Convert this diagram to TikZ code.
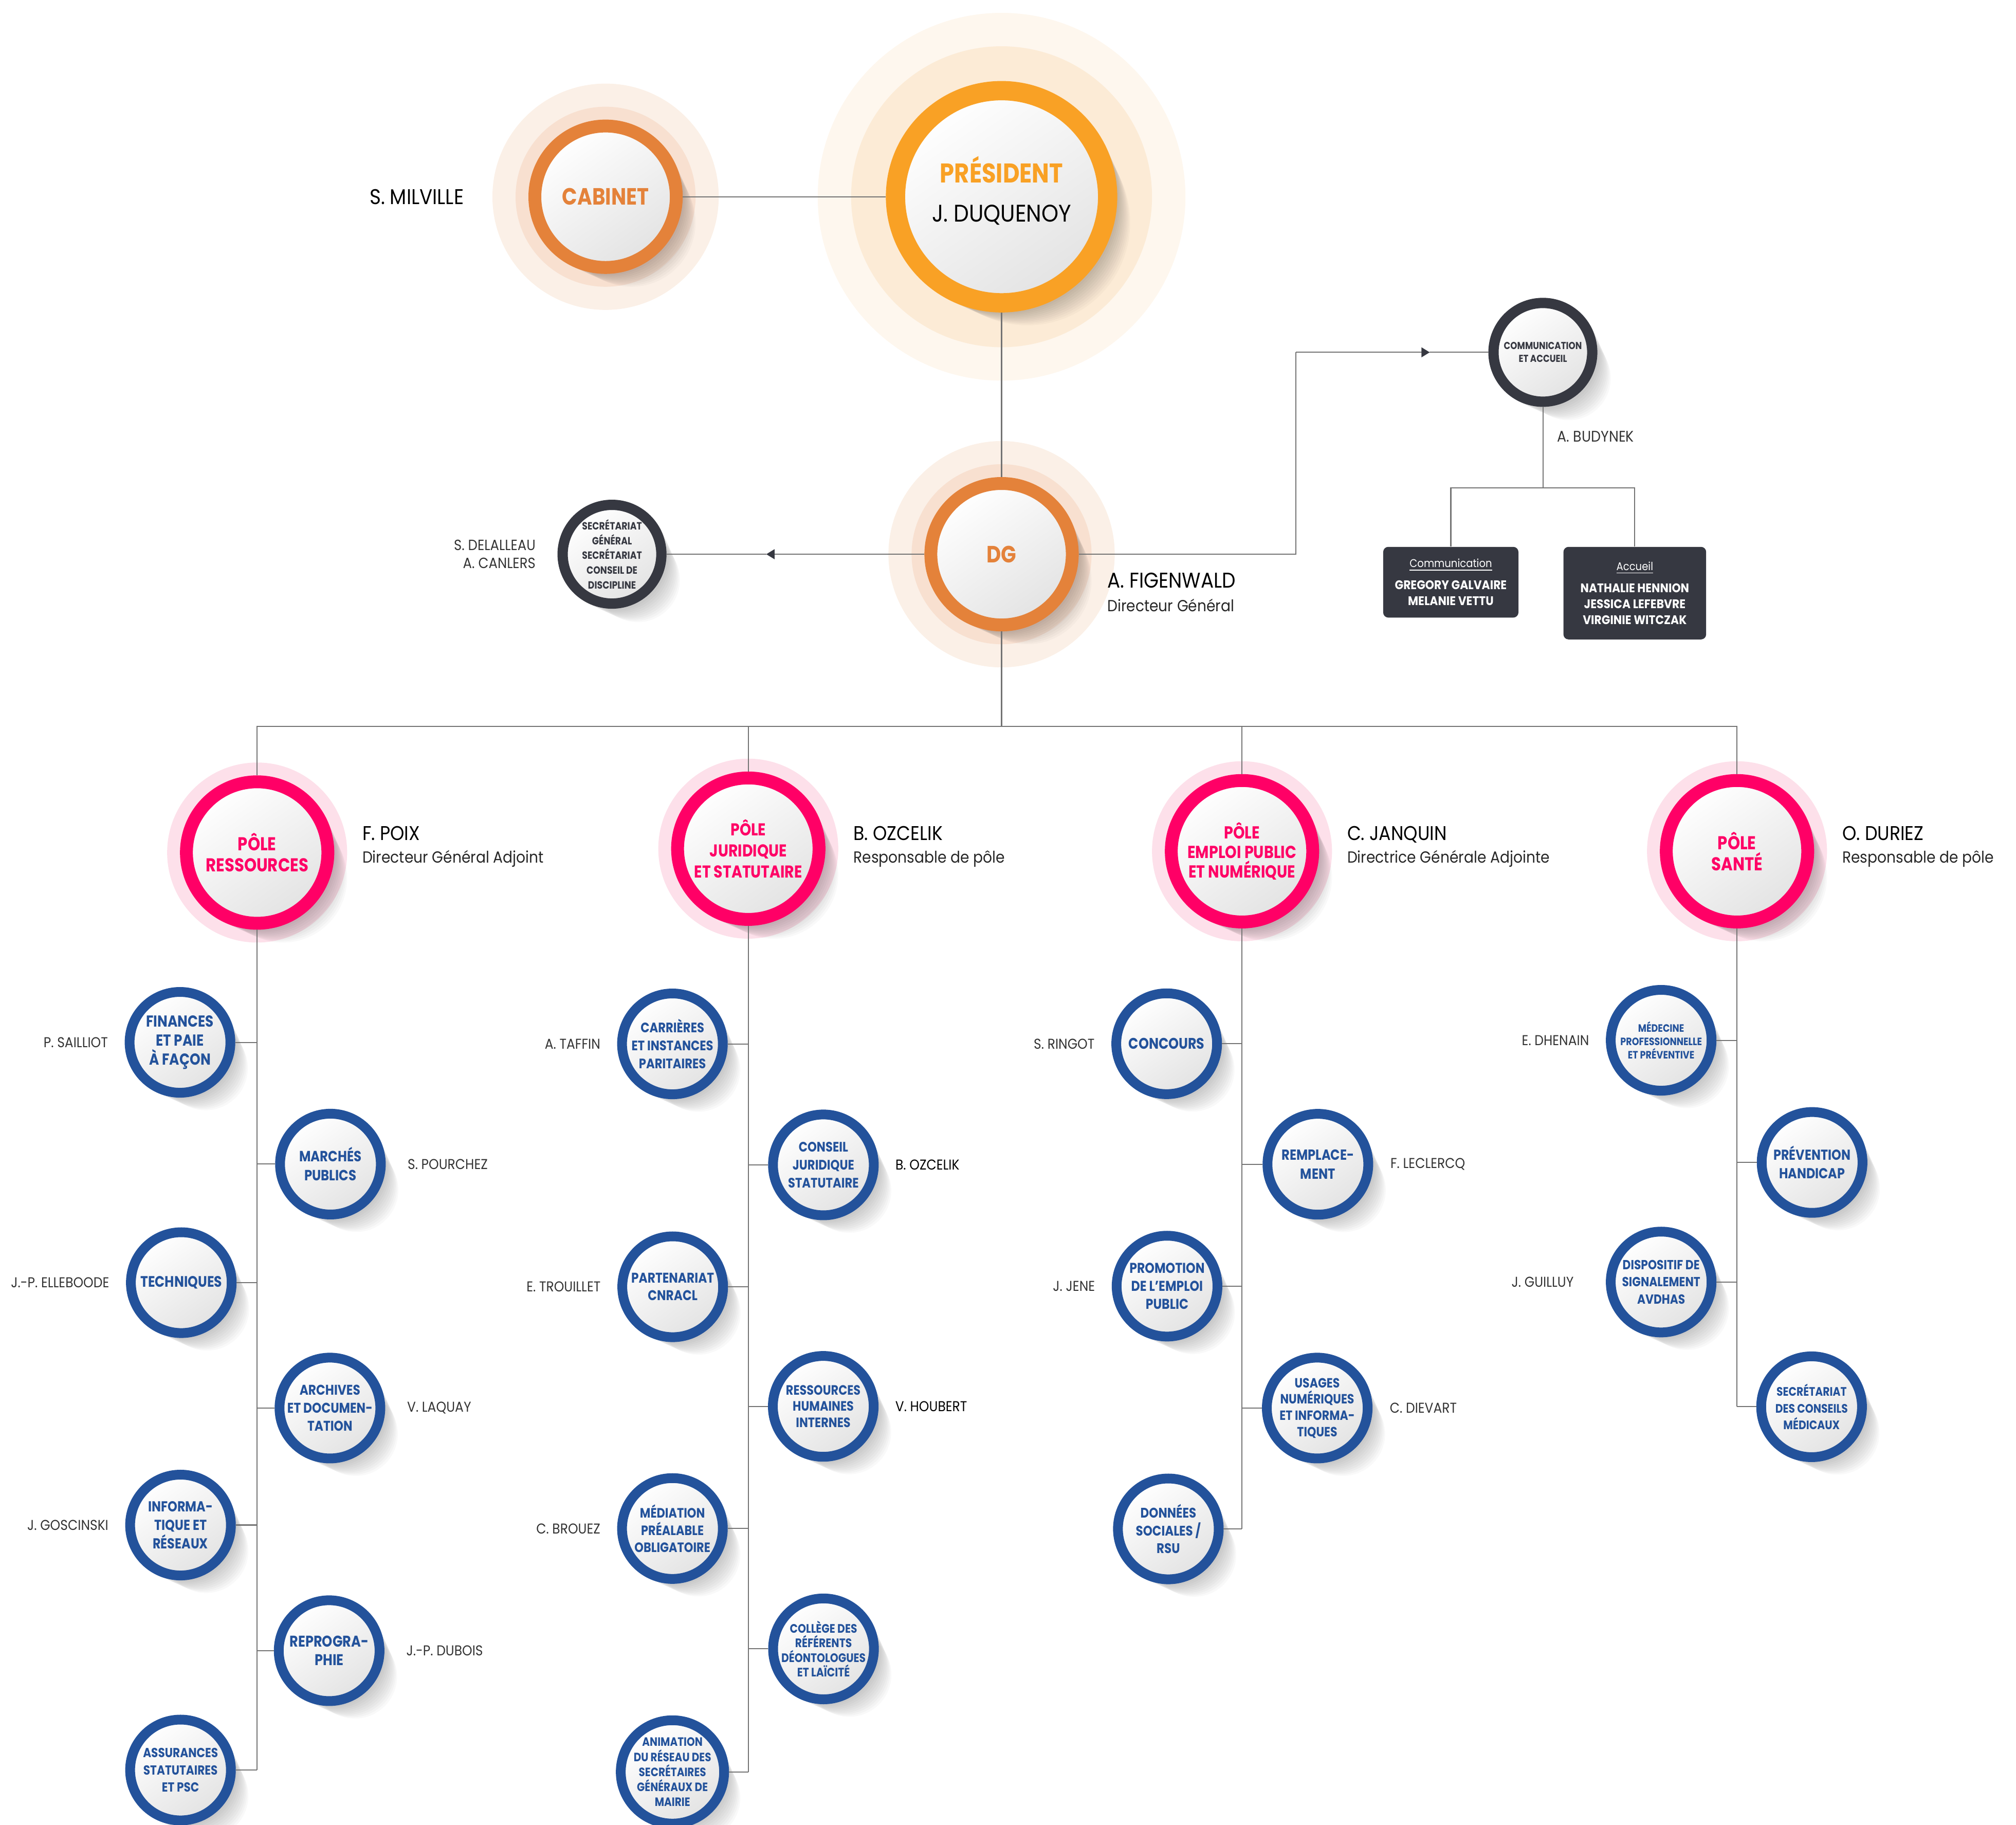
\documentclass[tikz,border=0pt]{standalone}
\usepackage{fontspec}
\setmainfont[FakeStretch=0.9]{Poppins}
\newfontfamily\unitfont[FakeStretch=0.85]{Poppins}
\usetikzlibrary{arrows.meta, positioning}
\newcommand*{\fontat}[2]{\fontsize{#1}{#2}\selectfont}
\definecolor{chairorange}{HTML}{F9A125}
\definecolor{headorange}{HTML}{E4823A}
\definecolor{polepink}{HTML}{FF0066}
\definecolor{unitblue}{HTML}{23529B}
\definecolor{darkgrey}{HTML}{363841}
\definecolor{chairhalo}{HTML}{FCEBD6}
\definecolor{chairglow}{HTML}{FEF7EE}
\definecolor{headhalo}{HTML}{F8E0D0}
\definecolor{headglow}{HTML}{FBF0E7}
\definecolor{polehalo}{HTML}{FDE0EA}
\pgfdeclarelayer{background}
\pgfsetlayers{background,main}
\tikzstyle{disc} = [circle, inner sep=0pt, align=center, top color=white, bottom color=black!11, shading angle=35]
\tikzstyle{chair} = [disc, draw=chairorange, line width=3.75mm, minimum size=41.25mm, font=\fontat{13.3}{21.8}]
\tikzstyle{head} = [disc, draw=headorange, line width=2.5mm, minimum size=27.5mm, text=headorange, font=\unitfont\bfseries\fontat{13}{15}]
\tikzstyle{pole} = [disc, draw=polepink, line width=2.5mm, minimum size=27.5mm, text=polepink, font=\unitfont\bfseries\fontat{10.3}{11.6}]
\tikzstyle{unit} = [disc, draw=unitblue, line width=1.9mm, minimum size=19.6mm, text=unitblue, font=\unitfont\bfseries\fontat{8.8}{10.5}]
\tikzstyle{dark} = [disc, draw=darkgrey, line width=2mm, minimum size=19.2mm, text=darkgrey, font=\unitfont\bfseries\fontat{5.8}{8.2}]
\tikzstyle{team} = [rectangle, rounded corners=1mm, fill=darkgrey, text=white, align=center, font=\bfseries\fontat{6.9}{8.9}]
\tikzstyle{chief} = [inner sep=0pt, text=black, font=\fontat{11}{13}]
\tikzstyle{role} = [inner sep=0pt, text=black!85, font=\fontat{8.9}{11}]
\tikzstyle{who} = [inner sep=0pt, text=black!80, font=\fontat{7.9}{10}]
\tikzstyle{link} = [draw=black!55, line width=0.6pt]
\tikzstyle{tip} = [-{Triangle[length=1.6mm, width=1.9mm, color=darkgrey]}]
\tikzset{fs/.style 2 args={font=\unitfont\bfseries\fontat{#1}{#2}}}
\newcommand*{\softshadow}[2]{%
    \foreach \k in {1,...,10}
        \fill [black, opacity=0.022] ([shift={(2*\k,2*\k)}]#1.center) circle [radius={#2mm-\k*0.25mm}];
}

\begin{document}
\begin{tikzpicture}[x=0.25mm, y=-0.25mm]
    \useasboundingbox (0,0) rectangle (1568,1419);

    % Direction.
    \node (president) [chair, text depth=3mm] at (779,153) {{\color{chairorange}\unitfont\bfseries\fontat{15}{15}PRÉSIDENT}\\J. DUQUENOY};
    \node (cabinet) [head] at (471,153) {CABINET};
    \node (dg) [head] at (779,431) {DG};
    \node (secretariat) [dark] at (476,431) {SECRÉTARIAT\\GÉNÉRAL\\SECRÉTARIAT\\CONSEIL DE\\DISCIPLINE};
    \node (comm) [dark, fs={5.6}{7}, text=darkgrey] at (1200,274) {COMMUNICATION\\ET ACCUEIL};
    \node (commteam) [team, minimum width=26.3mm, minimum height=13.75mm, anchor=north] at (1128.4,425) {{\mdseries\fontat{6.2}{8.9}\underline{Communication}}\\[3.2pt]GREGORY GALVAIRE\\MELANIE VETTU};
    \node (accueilteam) [team, minimum width=27.75mm, minimum height=18mm, anchor=north] at (1271.5,425) {{\mdseries\fontat{6.2}{8.9}\underline{Accueil}}\\[3.2pt]NATHALIE HENNION\\JESSICA LEFEBVRE\\VIRGINIE WITCZAK};

    \node [chief, font=\fontat{11.8}{13}, left=12.5mm of cabinet] {S. MILVILLE};
    \node [who, font=\fontat{8.2}{10}, align=right, left=4.2mm of secretariat] {S. DELALLEAU\\A. CANLERS};
    \node [who, font=\fontat{8.5}{10}, anchor=west] at (1211,339.6) {A. BUDYNEK};
    \node [chief, font=\fontat{11.8}{13}, anchor=base west] (figenwald) at (861,457) {A. FIGENWALD};
    \node [role, anchor=base west] at (861,475.5) {Directeur Général};

    % Poles.
    \node (ressources) [pole] at (200,663) {PÔLE\\RESSOURCES};
    \node (juridique) [pole, fs={9.5}{11.7}] at (582,660) {PÔLE\\JURIDIQUE\\ET STATUTAIRE};
    \node (emploi) [pole, fs={9.6}{10.8}] at (966,662) {PÔLE\\EMPLOI PUBLIC\\ET NUMÉRIQUE};
    \node (sante) [pole, fs={10.3}{11.6}] at (1351,662) {PÔLE\\SANTÉ};

    \foreach \x/\who/\what in {281.6/F. POIX/Directeur Général Adjoint, 663.6/B. OZCELIK/Responsable de pôle,
            1047.6/C. JANQUIN/Directrice Générale Adjointe, 1432.6/O. DURIEZ/Responsable de pôle} {%
        \node [chief, anchor=base west] at (\x,653.5) {\who};
        \node [role, anchor=base west] at (\x,671) {\what};
    }

    % Units, pole ressources.
    \node (finances) [unit] at (140,810.6) {FINANCES\\ET PAIE\\À FAÇON};
    \node (marches) [unit, fs={8.2}{10.5}] at (257,905.3) {MARCHÉS\\PUBLICS};
    \node (techniques) [unit, fs={8.4}{10}] at (141,997.5) {TECHNIQUES};
    \node (archives) [unit, fs={7.8}{10}] at (256.6,1095) {ARCHIVES\\ET DOCUMEN-\\TATION};
    \node (informatique) [unit, fs={8}{10.3}] at (140.4,1186) {INFORMA-\\TIQUE ET\\RÉSEAUX};
    \node (reprographie) [unit, fs={8.6}{10.4}] at (256,1283.7) {REPROGRA-\\PHIE};
    \node (assurances) [unit, fs={7.25}{9.4}] at (140.4,1376.5) {ASSURANCES\\STATUTAIRES\\ET PSC};

    % Units, pole juridique.
    \node (carrieres) [unit, fs={7.6}{9.9}] at (523,811.8) {CARRIÈRES\\ET INSTANCES\\PARITAIRES};
    \node (conseil) [unit, fs={7.6}{10}] at (640.4,905.9) {CONSEIL\\JURIDIQUE\\STATUTAIRE};
    \node (partenariat) [unit, fs={7.8}{9.8}] at (523.2,1000.7) {PARTENARIAT\\CNRACL};
    \node (rhi) [unit, fs={7.5}{9}] at (640.3,1093.7) {RESSOURCES\\HUMAINES\\INTERNES};
    \node (mediation) [unit, fs={7.5}{9.6}] at (523,1188.7) {MÉDIATION\\PRÉALABLE\\OBLIGATOIRE};
    \node (college) [unit, fs={6.8}{8.1}] at (640.5,1282.3) {COLLÈGE DES\\RÉFÉRENTS\\DÉONTOLOGUES\\ET LAÏCITÉ};
    \node (animation) [unit, fs={6.7}{8.3}] at (523,1378) {ANIMATION\\DU RÉSEAU DES\\SECRÉTAIRES\\GÉNÉRAUX DE\\MAIRIE};

    % Units, pole emploi.
    \node (concours) [unit, fs={8.5}{10}] at (907.4,811.7) {CONCOURS};
    \node (remplacement) [unit, fs={8.1}{10.4}] at (1025,905.4) {REMPLACE-\\MENT};
    \node (promotion) [unit, fs={7.9}{10}] at (907.7,1000.2) {PROMOTION\\DE L’EMPLOI\\PUBLIC};
    \node (usages) [unit, fs={7.4}{9}] at (1024.5,1095) {USAGES\\NUMÉRIQUES\\ET INFORMA-\\TIQUES};
    \node (donnees) [unit, fs={7.7}{9.9}] at (908.7,1189) {DONNÉES\\SOCIALES /\\RSU};

    % Units, pole sante.
    \node (medecine) [unit, fs={5.9}{7.4}] at (1292,809) {MÉDECINE\\PROFESSIONNELLE\\ET PRÉVENTIVE};
    \node (prevention) [unit, fs={8}{10.2}] at (1409.4,904) {PRÉVENTION\\HANDICAP};
    \node (dispositif) [unit, fs={7.3}{9.6}] at (1292,997) {DISPOSITIF DE\\SIGNALEMENT\\AVDHAS};
    \node (secmed) [unit, fs={6.8}{9.2}] at (1409,1094) {SECRÉTARIAT\\DES CONSEILS\\MÉDICAUX};

    % Names.
    \node [who, left=3.2mm of finances] {P. SAILLIOT};
    \node [who, right=4.2mm of marches] {S. POURCHEZ};
    \node [who, left=3.2mm of techniques] {J.-P. ELLEBOODE};
    \node [who, right=4.2mm of archives] {V. LAQUAY};
    \node [who, left=3.2mm of informatique] {J. GOSCINSKI};
    \node [who, right=4.2mm of reprographie] {J.-P. DUBOIS};
    \node [who, left=3.2mm of carrieres] {A. TAFFIN};
    \node [who, right=3.2mm of conseil, text=black] {B. OZCELIK};
    \node [who, left=3.2mm of partenariat] {E. TROUILLET};
    \node [who, right=3.2mm of rhi, text=black] {V. HOUBERT};
    \node [who, left=3.2mm of mediation] {C. BROUEZ};
    \node [who, left=3.2mm of concours] {S. RINGOT};
    \node [who, right=3.3mm of remplacement] {F. LECLERCQ};
    \node [who, left=3.2mm of promotion] {J. JENE};
    \node [who, right=3.3mm of usages] {C. DIEVART};
    \node [who, left=3.2mm of medecine] {E. DHENAIN};
    \node [who, left=6.2mm of dispositif] {J. GUILLUY};

    % Connectors.
    \coordinate (secretariat tip) at (596,431);
    \coordinate (comm bend) at (1008,274);
    \coordinate (comm tip) at (1112,274);
    \coordinate (team split) at (1200,379.5);
    \coordinate (pole bus) at (779,565);

    \draw [link] (cabinet) -- (president);
    \draw [link] (president) -- (dg);
    \draw [link, tip] (dg) -- (secretariat tip);
    \draw [link] (secretariat tip) -- (secretariat);
    \draw [link] (dg) -| (comm bend);
    \draw [link, tip] (comm bend) -- (comm tip);
    \draw [link] (comm tip) -- (comm);
    \draw [link] (comm) -- (team split);
    \draw [link] (team split) -| (commteam);
    \draw [link] (team split) -| (accueilteam);
    \draw [link] (dg) -- (pole bus);
    \foreach \p in {ressources, juridique, emploi, sante}
        \draw [link] (pole bus) -| (\p);

    \draw [link] (ressources) -- (ressources |- assurances);
    \draw [link] (juridique) -- (juridique |- animation);
    \draw [link] (emploi) -- (emploi |- donnees);
    \draw [link] (sante) -- (sante |- secmed);
    \foreach \p/\u in {ressources/finances, ressources/marches, ressources/techniques, ressources/archives,
            ressources/informatique, ressources/reprographie, ressources/assurances,
            juridique/carrieres, juridique/conseil, juridique/partenariat, juridique/rhi,
            juridique/mediation, juridique/college, juridique/animation,
            emploi/concours, emploi/remplacement, emploi/promotion, emploi/usages, emploi/donnees,
            sante/medecine, sante/prevention, sante/dispositif, sante/secmed}
        \draw [link] (\u) -- (\u -| \p);

    % Halos and shadows.
    \begin{pgfonlayer}{background}
        \fill [chairglow] (president) circle [radius=35.75mm];
        \fill [chairhalo] (president) circle [radius=29.25mm];
        \foreach \n in {cabinet, dg} {%
            \fill [headglow] (\n) circle [radius=22mm];
            \fill [headhalo] (\n) circle [radius=17.5mm];
        }
        \foreach \n in {ressources, juridique, emploi, sante}
            \fill [polehalo] (\n) circle [radius=17.5mm];
        \softshadow{president}{22.5}
        \foreach \n in {cabinet, dg, ressources, juridique, emploi, sante} {\softshadow{\n}{15}}
        \foreach \n in {secretariat, comm, finances, marches, techniques, archives, informatique,
                reprographie, assurances, carrieres, conseil, partenariat, rhi, mediation, college,
                animation, concours, remplacement, promotion, usages, donnees, medecine, prevention,
                dispositif, secmed} {\softshadow{\n}{10.7}}
    \end{pgfonlayer}
\end{tikzpicture}
\end{document}
